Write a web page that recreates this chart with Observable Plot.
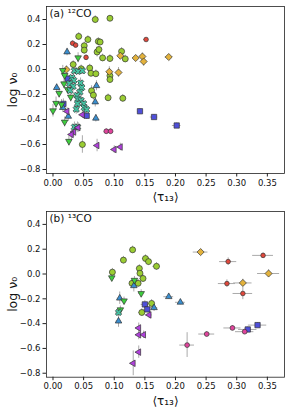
<!DOCTYPE html>
<html>
<head>
<meta charset="utf-8">
<script src="https://cdn.jsdelivr.net/npm/d3@7"></script>
<script src="https://cdn.jsdelivr.net/npm/@observablehq/plot@0.6"></script>
<style>
  html, body { margin: 0; padding: 0; background: white; }
  #chart svg { display: block; }
</style>
</head>
<body>
<div id="chart"></div>
<script>
// ---- data: [tau13, logNu0, tauErr, logNu0Err] ----
const panelTitles = ["(a) ¹²CO", "(b) ¹³CO"];
const xTicks = [0, 0.05, 0.10, 0.15, 0.20, 0.25, 0.30, 0.35];
const yTicks = [-0.8, -0.6, -0.4, -0.2, 0.0, 0.2, 0.4];

const aGreen = [
  [0.069,0.40,0.003,0.03],[0.093,0.41,0.003,0.02],[0.042,0.265,0.003,0.03],[0.057,0.24,0.003,0.03],
  [0.051,0.19,0.003,0.03],[0.074,0.225,0.003,0.03],[0.077,0.22,0.003,0.02],[0.051,0.155,0.003,0.03],
  [0.072,0.14,0.003,0.04],[0.075,0.16,0.003,0.03],[0.081,0.093,0.003,0.03],[0.093,0.088,0.003,0.03],
  [0.112,0.145,0.003,0.03],[0.118,0.085,0.003,0.03],[0.033,0.04,0.003,0.03],[0.046,0.006,0.003,0.03],
  [0.060,0.012,0.003,0.03],[0.062,-0.03,0.003,0.03],[0.070,-0.034,0.003,0.03],[0.093,-0.05,0.003,0.03],
  [0.093,-0.08,0.003,0.03],[0.063,-0.17,0.003,0.04],[0.066,-0.205,0.003,0.04],[0.090,-0.226,0.003,0.03],
  [0.114,-0.23,0.003,0.03],[0.048,-0.60,0.003,0.07]
];
const aRed = [[0.032,0.21,0.002,0.02],[0.037,0.195,0.002,0.02],[0.054,0.097,0.002,0.02],[0.152,0.24,0.004,0.01]];
const aMagenta = [[0.087,-0.494,0.003,0.02],[0.094,-0.494,0.003,0.02]];
const aGold = [
  [0.022,0.0,0.003,0.03],[0.092,-0.018,0.004,0.04],[0.107,-0.024,0.004,0.04],[0.110,0.11,0.004,0.03],
  [0.135,0.092,0.004,0.02],[0.146,0.104,0.004,0.03],[0.148,0.064,0.004,0.04],[0.189,0.10,0.006,0.02]
];
const aBlue = [[0.024,-0.073,0.003,0.04],[0.017,-0.275,0.003,0.04],[0.055,-0.37,0.003,0.03],[0.142,-0.334,0.004,0.02],[0.165,-0.38,0.006,0.02],[0.202,-0.448,0.007,0.02]];
const aTriUp = [[0.023,0.14,0.003,0.03],[0.006,-0.145,0.003,0.03],[0.071,-0.13,0.003,0.04],[0.016,-0.305,0.003,0.04],[0.025,-0.375,0.003,0.04],[0.070,-0.39,0.003,0.03],[0.069,-0.26,0.003,0.04]];
const aTriDown = [
  [0.041,0.094,0.003,0.04],[0.016,-0.007,0.003,0.04],[0.019,-0.047,0.003,0.04],[0.018,-0.114,0.003,0.04],
  [0.010,-0.19,0.003,0.04],[0.005,-0.27,0.003,0.05],[0.0,-0.33,0.003,0.05],[0.029,-0.22,0.003,0.04],
  [0.019,-0.42,0.003,0.04],[0.026,-0.574,0.003,0.04],[0.014,-0.28,0.003,0.04],[0.024,-0.16,0.003,0.04]
];
const aX = [
  [0.035,-0.01,0.003,0.03],[0.041,-0.015,0.003,0.03],[0.048,-0.01,0.003,0.03],[0.031,-0.065,0.003,0.04],
  [0.034,-0.087,0.003,0.04],[0.027,-0.113,0.003,0.04],[0.033,-0.135,0.003,0.04],[0.045,-0.108,0.003,0.04],
  [0.047,-0.145,0.003,0.04],[0.028,-0.167,0.003,0.04],[0.044,-0.18,0.003,0.04],[0.039,-0.207,0.003,0.04],
  [0.041,-0.236,0.003,0.04],[0.046,-0.247,0.003,0.04],[0.040,-0.273,0.003,0.04],[0.050,-0.273,0.003,0.04],
  [0.038,-0.318,0.003,0.04],[0.035,-0.46,0.003,0.04],[0.040,-0.46,0.003,0.04],[0.051,-0.305,0.003,0.04],
  [0.055,-0.32,0.003,0.04]
];
const aLeft = [[0.023,-0.335,0.003,0.03],[0.048,-0.362,0.003,0.03],[0.041,-0.465,0.003,0.04],[0.034,-0.50,0.003,0.04],[0.030,-0.52,0.003,0.04],[0.072,-0.608,0.003,0.05],[0.100,-0.64,0.003,0.03],[0.110,-0.62,0.003,0.03]];

const bGreen = [
  [0.097,0.015,0.004,0.03],[0.115,0.112,0.004,0.03],[0.130,0.195,0.004,0.03],[0.151,0.125,0.005,0.03],
  [0.156,0.10,0.005,0.03],[0.169,0.062,0.006,0.03],[0.141,0.045,0.004,0.03],[0.142,0.006,0.004,0.03],
  [0.147,-0.036,0.005,0.03],[0.129,-0.075,0.004,0.03],[0.139,-0.075,0.004,0.03],[0.161,-0.237,0.005,0.03],
  [0.145,-0.31,0.005,0.03]
];
const bRed = [[0.286,0.10,0.014,0.03],[0.343,0.15,0.017,0.02],[0.284,-0.077,0.014,0.03],[0.310,-0.157,0.016,0.05]];
const bMagenta = [[0.251,-0.484,0.013,0.02],[0.293,-0.435,0.014,0.02],[0.313,-0.465,0.015,0.02],[0.219,-0.573,0.012,0.10]];
const bGold = [[0.241,0.177,0.012,0.02],[0.352,0.004,0.018,0.03],[0.310,-0.072,0.015,0.03]];
const bBlue = [[0.150,-0.245,0.006,0.03],[0.154,-0.285,0.006,0.03],[0.318,-0.447,0.015,0.02],[0.334,-0.412,0.015,0.02]];
const bTriUp = [[0.109,-0.195,0.004,0.05],[0.107,-0.38,0.004,0.05],[0.132,-0.095,0.004,0.05],[0.189,-0.183,0.008,0.02],[0.208,-0.228,0.008,0.02],[0.165,-0.272,0.006,0.03]];
const bTriDown = [[0.096,-0.03,0.004,0.03],[0.133,-0.05,0.004,0.03],[0.144,-0.157,0.004,0.03],[0.116,-0.216,0.004,0.03],[0.110,-0.288,0.004,0.03]];
const bX = [[0.107,-0.31,0.004,0.03]];
const bLeft = [[0.157,-0.33,0.005,0.03],[0.140,-0.435,0.004,0.04],[0.140,-0.49,0.004,0.04],[0.148,-0.49,0.004,0.03],[0.140,-0.63,0.004,0.05],[0.131,-0.72,0.004,0.10]];

// ---- custom marker shapes ----
function tri(angle) {
  return {draw(ctx, size) {
    const h = Math.sqrt(size / Math.PI) * 1.35;
    for (let i = 0; i < 3; i++) {
      const a = angle + i * 2 * Math.PI / 3;
      const px = h * Math.cos(a), py = h * Math.sin(a);
      if (i === 0) ctx.moveTo(px, py); else ctx.lineTo(px, py);
    }
    ctx.closePath();
  }};
}
const triUp = tri(-Math.PI / 2);
const triDown = tri(Math.PI / 2);
const triLeft = tri(Math.PI);
const filledX = {draw(ctx, size) {
  const r = Math.sqrt(size / Math.PI);
  const L = r * 1.25, w = r * 0.42;
  const pts = [[w,-L],[w,-w],[L,-w],[L,w],[w,w],[w,L],[-w,L],[-w,w],[-L,w],[-L,-w],[-w,-w],[-w,-L]];
  const c = Math.SQRT1_2;
  pts.forEach(([px, py], i) => {
    const qx = c * (px - py), qy = c * (px + py);
    if (i === 0) ctx.moveTo(qx, qy); else ctx.lineTo(qx, qy);
  });
  ctx.closePath();
}};

const styles = {
  green:   {fill: "#9acd32", symbol: "circle", r: 3.0},
  red:     {fill: "#e0483c", symbol: "circle", r: 2.3},
  gold:    {fill: "#e3b23c", symbol: "diamond2", r: 3.2},
  blue:    {fill: "#4f4fd9", symbol: "square", r: 3.0},
  triUp:   {fill: "#3a8fd0", symbol: triUp, r: 2.8},
  triDown: {fill: "#3ecf3e", symbol: triDown, r: 2.8},
  x:       {fill: "#46c4a4", symbol: filledX, r: 2.7},
  left:    {fill: "#b040dc", symbol: triLeft, r: 2.8},
  magenta: {fill: "#e0449c", symbol: "circle", r: 2.4}
};

function toRows(arr, key) {
  return arr.map(([x, y, xe, ye]) => ({x, y, xe, ye, key}));
}

function panel(title, series, height, marginBottom) {
  const all = series.flatMap(([arr, key]) => toRows(arr, key));
  const marks = [
    Plot.ruleY(all, {y: "y", x1: d => d.x - d.xe, x2: d => d.x + d.xe, stroke: "#aaaaaa", strokeWidth: 1}),
    Plot.ruleX(all, {x: "x", y1: d => d.y - d.ye, y2: d => d.y + d.ye, stroke: "#aaaaaa", strokeWidth: 1})
  ];
  for (const [arr, key] of series) {
    const s = styles[key];
    marks.push(Plot.dot(toRows(arr, key), {x: "x", y: "y", symbol: () => s.symbol, r: s.r, fill: s.fill, stroke: "#333", strokeWidth: 0.7}));
  }
  marks.push(
    Plot.frame({stroke: "#222", strokeWidth: 0.8}),
    Plot.axisX({ticks: xTicks, tickFormat: ".2f", tickSize: 3.5, tickPadding: 2.5, label: null, stroke: "#222"}),
    Plot.axisY({ticks: yTicks, tickFormat: ".1f", tickSize: 3.5, tickPadding: 2.5, label: null, stroke: "#222"}),
    Plot.text([title], {frameAnchor: "top-left", dx: 3, dy: 3, textAnchor: "start", lineAnchor: "top", fontSize: 10.5, fill: "#111"}),
    Plot.text(["log ν₀"], {frameAnchor: "left", dx: -34, rotate: -90, textAnchor: "middle", lineAnchor: "middle", fontSize: 12.5, fill: "#111"}),
    Plot.text(["⟨τ₁₃⟩"], {frameAnchor: "bottom", dy: 24, textAnchor: "middle", lineAnchor: "middle", fontSize: 12, fill: "#111"})
  );
  return Plot.plot({
    width: 287,
    height,
    marginLeft: 46,
    marginRight: 3,
    marginTop: 6,
    marginBottom,
    x: {domain: [-0.0106, 0.378]},
    y: {domain: [-0.832, 0.504]},
    symbol: {type: "identity"},
    style: {fontFamily: "DejaVu Sans", fontSize: "8.5px", background: "white", color: "#111"},
    marks
  });
}

const seriesA = [[aGreen,"green"],[aRed,"red"],[aGold,"gold"],[aBlue,"blue"],[aTriUp,"triUp"],[aTriDown,"triDown"],[aX,"x"],[aLeft,"left"],[aMagenta,"magenta"]];
const seriesB = [[bGreen,"green"],[bRed,"red"],[bGold,"gold"],[bBlue,"blue"],[bTriUp,"triUp"],[bTriDown,"triDown"],[bX,"x"],[bLeft,"left"],[bMagenta,"magenta"]];

const chart = document.getElementById("chart");
chart.append(panel(panelTitles[0], seriesA, 205, 32));
chart.append(panel(panelTitles[1], seriesB, 210, 38.3));
</script>
</body>
</html>
